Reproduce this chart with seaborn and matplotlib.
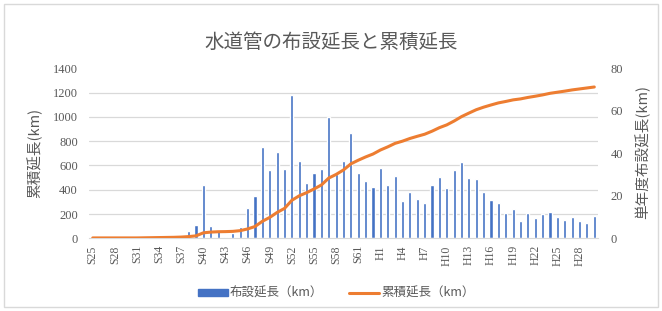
import pandas as pd
import matplotlib
matplotlib.use('Agg')
import matplotlib.pyplot as plt
import seaborn as sns
from matplotlib.patches import Rectangle, Patch
from matplotlib.lines import Line2D

sns.set_style('white')
plt.rcParams['font.family'] = ['Noto Sans CJK JP', 'DejaVu Sans']

# 年度 (S25 = 1950 ... H30 = 2018)
nendo = ['S25', 'S26', 'S27', 'S28', 'S29', 'S30', 'S31', 'S32', 'S33', 'S34',
         'S35', 'S36', 'S37', 'S38', 'S39', 'S40', 'S41', 'S42', 'S43', 'S44',
         'S45', 'S46', 'S47', 'S48', 'S49', 'S50', 'S51', 'S52', 'S53', 'S54',
         'S55', 'S56', 'S57', 'S58', 'S59', 'S60', 'S61', 'S62', 'S63',
         'H1', 'H2', 'H3', 'H4', 'H5', 'H6', 'H7', 'H8', 'H9', 'H10',
         'H11', 'H12', 'H13', 'H14', 'H15', 'H16', 'H17', 'H18', 'H19', 'H20',
         'H21', 'H22', 'H23', 'H24', 'H25', 'H26', 'H27', 'H28', 'H29', 'H30']

# 単年度の布設延長 (km) - 右軸
fusetsu = [0, 0, 0, 0, 0, 0, 0, 0, 0, 0,
           0, 0, 0, 3.6, 6.4, 24.9, 5.9, 3.6, 0.5, 2.4,
           5.5, 14.4, 20.0, 43.1, 32.1, 40.8, 32.5, 67.4, 36.5, 25.9,
           30.9, 32.5, 57.2, 30.3, 36.5, 49.7, 30.6, 26.8, 24.3,
           33.1, 25.2, 29.3, 17.7, 21.9, 18.5, 16.8, 25.0, 28.7, 23.6,
           32.3, 35.9, 28.4, 28.1, 21.6, 18.0, 16.4, 11.7, 13.7, 8.1,
           12.1, 9.6, 11.3, 12.2, 9.9, 8.6, 10.2, 8.2, 7.3, 10.3]

# 累積延長 (km) - 左軸
ruiseki = [3, 3, 3, 3, 3, 3, 3, 4, 5, 6,
           7, 8, 10, 14, 20, 45, 51, 54, 55, 57,
           63, 77, 97, 140, 172, 213, 246, 313, 350, 376,
           406, 439, 496, 526, 563, 613, 643, 670, 694,
           727, 753, 782, 800, 822, 840, 857, 882, 911, 934,
           966, 1002, 1031, 1059, 1080, 1098, 1115, 1127, 1140, 1148,
           1160, 1170, 1181, 1194, 1203, 1212, 1222, 1230, 1238, 1246]

df = pd.DataFrame({'nendo': nendo, 'fusetsu': fusetsu, 'ruiseki': ruiseki})

gray = '#595959'
blue = '#4472C4'
orange = '#ED7D31'

fig = plt.figure(figsize=(6.62, 3.11), dpi=100)
# 下の軸: 棒 (右目盛り) + グリッド
ax = fig.add_axes([0.1345, 0.2338, 0.7688, 0.5466])
sns.barplot(data=df, x='nendo', y='fusetsu', ax=ax, color=blue, saturation=1, width=0.42)

# 上の軸: 累積延長の線 (左目盛り)
axl = ax.twinx()
sns.lineplot(data=df, x='nendo', y='ruiseki', ax=axl, color=orange, linewidth=2.2)

ax.yaxis.tick_right()
axl.yaxis.tick_left()

ax.set_ylim(0, 80)
ax.set_yticks(range(0, 81, 20))
# 左軸 200km ごとのグリッド線
ax.set_yticks([80 * i / 7 for i in range(8)], minor=True)
ax.yaxis.grid(True, which='minor', color='#D9D9D9', linewidth=0.9)
ax.yaxis.grid(False, which='major')
ax.set_axisbelow(True)

axl.set_ylim(0, 1400)
axl.set_yticks(range(0, 1401, 200))
axl.grid(False)

ax.set_xlim(-0.5, len(nendo) - 0.5)
ax.set_xticks(range(0, len(nendo), 3))
ax.set_xticklabels(nendo[::3])

for a in (ax, axl):
    a.set_xlabel('')
    a.set_ylabel('')
    for s in a.spines.values():
        s.set_visible(False)
ax.spines['bottom'].set_visible(True)
ax.spines['bottom'].set_color('#D9D9D9')

ax.tick_params(axis='y', which='both', length=0, pad=9, labelsize=9, labelcolor=gray)
axl.tick_params(axis='y', length=0, pad=8, labelsize=9, labelcolor=gray)
ax.tick_params(axis='x', length=0, pad=5, labelsize=8.5, labelcolor=gray, rotation=90)

for lab in ax.get_yticklabels() + axl.get_yticklabels() + ax.get_xticklabels():
    lab.set_fontfamily(['Liberation Serif', 'DejaVu Serif'])

# タイトル・軸ラベル
fig.text(0.5, 1 - 42 / 311, '水道管の布設延長と累積延長', ha='center', va='center',
         fontsize=14, color=gray)
fig.text(35 / 662, 1 - 153 / 311, '累積延長(km)', ha='center', va='center',
         rotation=90, fontsize=10.5, color=gray)
fig.text(643 / 662, 1 - 152 / 311, '単年度布設延長(km)', ha='center', va='center',
         rotation=90, fontsize=10.5, color=gray)

# 凡例
handles = [Patch(color=blue), Line2D([0], [0], color=orange, lw=2.2)]
fig.legend(handles, ['布設延長（km）', '累積延長（km）'], loc='center',
           bbox_to_anchor=(336 / 662, 1 - 293 / 311), ncol=2, frameon=False,
           fontsize=9, handlelength=2.4, handleheight=0.5, handletextpad=0.2,
           columnspacing=2.0, labelcolor=gray)

# 外枠
fig.patches.append(Rectangle((4 / 662, 4 / 311), 654 / 662, 303 / 311,
                             transform=fig.transFigure, fill=False,
                             edgecolor='#D9D9D9', linewidth=1))

fig.savefig('out.png', dpi=100)
